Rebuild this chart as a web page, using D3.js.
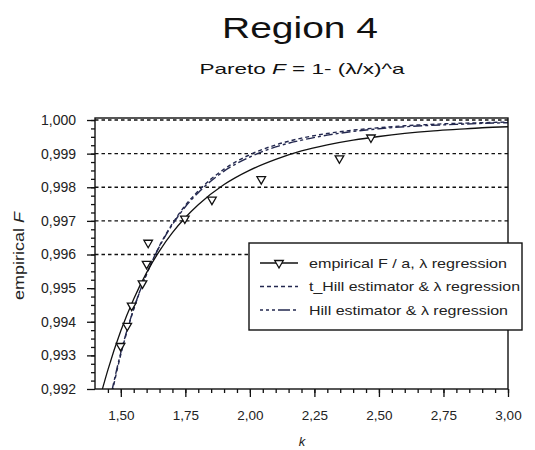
<!DOCTYPE html>
<html><head><meta charset="utf-8">
<script src="https://cdn.jsdelivr.net/npm/d3@7"></script>
<style>body{margin:0;background:#fff}svg{display:block}</style>
</head><body>
<svg id="c" width="535" height="450"></svg>
<script>
// ---- data ----
const xTicks = [1.5, 1.75, 2.0, 2.25, 2.5, 2.75, 3.0];
const yTicks = [0.992, 0.993, 0.994, 0.995, 0.996, 0.997, 0.998, 0.999, 1.000];
const gridValues = [0.996, 0.997, 0.998, 0.999, 1.000];

const empK = [1.499, 1.525, 1.542, 1.584, 1.600, 1.606, 1.748, 1.853, 2.044, 2.347, 2.469];
const empF = [0.99328, 0.99388, 0.99448, 0.99514, 0.99572, 0.99635, 0.99707, 0.99763, 0.99824, 0.99886, 0.99948];

const solidK = [1.42, 1.45, 1.5, 1.55, 1.6, 1.65, 1.7, 1.75, 1.8, 1.9, 2.0, 2.1, 2.2, 2.3, 2.4, 2.5, 2.6, 2.7, 2.8, 2.9, 3.0];
const solidF = [0.99176, 0.99257, 0.99373, 0.99468, 0.99546, 0.99611, 0.99665, 0.9971, 0.99748, 0.99808, 0.99851, 0.99883, 0.99908, 0.99926, 0.9994, 0.99951, 0.9996, 0.99967, 0.99972, 0.99977, 0.9998];

const hillK = [1.45, 1.5, 1.55, 1.6, 1.65, 1.7, 1.75, 1.8, 1.9, 2.0, 2.1, 2.2, 2.3, 2.4, 2.5, 2.6, 2.7, 2.8, 2.9, 3.0];
const tHillF = [0.9913, 0.99303, 0.99437, 0.99542, 0.99626, 0.99692, 0.99746, 0.99789, 0.99854, 0.99897, 0.99926, 0.99946, 0.9996, 0.9997, 0.99977, 0.99983, 0.99987, 0.9999, 0.99992, 0.99994];
const hillF  = [0.9914, 0.99308, 0.99439, 0.99542, 0.99624, 0.99689, 0.99742, 0.99784, 0.99848, 0.9989, 0.9992, 0.9994, 0.99955, 0.99966, 0.99974, 0.9998, 0.99984, 0.99987, 0.9999, 0.99992];

const legendLabels = ["empirical F / a, \u03BB regression", "t_Hill estimator & \u03BB regression", "Hill estimator & \u03BB regression"];

// ---- layout ----
const FONT = "'Liberation Sans', Arial, sans-serif";
const svg = d3.select("#c").style("font-family", FONT);
const x = d3.scaleLinear().domain([1.4, 3.0]).range([95, 508]);
const y = d3.scaleLinear().domain([0.992, 1.00006]).range([389, 118]);
const loc = d3.formatLocale({decimal: ",", thousands: ".", grouping: [3], currency: ["", ""]});
const fx = loc.format(".2f"), fy = loc.format(".3f");

// titles
svg.append("text").attr("x", 300).attr("y", 38).attr("text-anchor", "middle")
  .attr("font-size", 30).attr("textLength", 156).attr("lengthAdjust", "spacingAndGlyphs")
  .attr("fill", "#111").text("Region 4");
const sub = svg.append("text").attr("x", 302).attr("y", 74).attr("text-anchor", "middle")
  .attr("font-size", 15).attr("textLength", 205).attr("lengthAdjust", "spacingAndGlyphs").attr("fill", "#111");
sub.append("tspan").text("Pareto ");
sub.append("tspan").attr("font-style", "italic").text("F");
sub.append("tspan").text(" = 1- (\u03BB/x)^a");

// grid lines
const plotW = x.range()[1] - x.range()[0];
svg.append("g").selectAll("line").data(gridValues).join("line")
  .attr("x1", x(1.4)).attr("x2", x(3.0)).attr("y1", d => y(d)).attr("y2", d => y(d))
  .attr("stroke", "#111").attr("stroke-width", 1.4).attr("stroke-dasharray", "3.5,3");

// clip
svg.append("clipPath").attr("id", "clip").append("rect")
  .attr("x", x(1.4)).attr("y", y(1.00006)).attr("width", plotW).attr("height", y(0.992) - y(1.00006));

const plot = svg.append("g").attr("clip-path", "url(#clip)");
const line = d3.line().x(d => x(d[0])).y(d => y(d[1])).curve(d3.curveMonotoneX);

const solidData = solidK.map((k, i) => [k, solidF[i]]);
const tHillData = hillK.map((k, i) => [k, tHillF[i]]);
const hillData = hillK.map((k, i) => [k, hillF[i]]);

plot.append("path").attr("d", line(tHillData)).attr("fill", "none")
  .attr("stroke", "#23284f").attr("stroke-width", 1.4).attr("stroke-dasharray", "4,3");
plot.append("path").attr("d", line(hillData)).attr("fill", "none")
  .attr("stroke", "#23284f").attr("stroke-width", 1.4).attr("stroke-dasharray", "9,3,3,3");
plot.append("path").attr("d", line(solidData)).attr("fill", "none")
  .attr("stroke", "#111").attr("stroke-width", 1.3);

const tri = d3.symbol().type(d3.symbolTriangle).size(32);
plot.append("g").selectAll("path").data(empK.map((k, i) => [k, empF[i]])).join("path")
  .attr("d", tri).attr("transform", d => `translate(${x(d[0])},${y(d[1])}) rotate(180)`)
  .attr("fill", "#fff").attr("stroke", "#111").attr("stroke-width", 1.3);

// frame
svg.append("rect").attr("x", x(1.4)).attr("y", y(1.00006)).attr("width", plotW)
  .attr("height", y(0.992) - y(1.00006)).attr("fill", "none").attr("stroke", "#111").attr("stroke-width", 1.4);

// axes
const xAxis = svg.append("g").attr("transform", `translate(0,${y(0.992)})`)
  .call(d3.axisBottom(x).tickValues(xTicks).tickFormat(fx).tickSize(8).tickPadding(13));
const xMinor = svg.append("g").attr("transform", `translate(0,${y(0.992)})`)
  .call(d3.axisBottom(x).tickValues(d3.range(1.45, 3.0001, 0.05)).tickFormat("").tickSize(4));
const yAxis = svg.append("g").attr("transform", `translate(${x(1.4)},0)`)
  .call(d3.axisLeft(y).tickValues(yTicks).tickFormat(fy).tickSize(8).tickPadding(11));
const yMinor = svg.append("g").attr("transform", `translate(${x(1.4)},0)`)
  .call(d3.axisLeft(y).tickValues(d3.range(0.99225, 1.0, 0.00025)).tickFormat("").tickSize(4));
[xAxis, xMinor, yAxis, yMinor].forEach(g => {
  g.select(".domain").remove();
  g.selectAll("line").attr("stroke", "#111").attr("stroke-width", 1.3);
  g.selectAll("text").attr("fill", "#222").attr("font-family", FONT);
});
xAxis.selectAll("text").attr("font-size", 13.5);
yAxis.selectAll("text").attr("font-size", 14);

// axis titles
svg.append("text").attr("x", 302).attr("y", 446).attr("text-anchor", "middle")
  .attr("font-size", 13).attr("font-style", "italic").attr("fill", "#222").text("k");
const yl = svg.append("text").attr("transform", "translate(24,256) rotate(-90)").attr("text-anchor", "middle")
  .attr("font-size", 14).attr("textLength", 88).attr("lengthAdjust", "spacingAndGlyphs").attr("fill", "#222");
yl.append("tspan").text("empirical ");
yl.append("tspan").attr("font-style", "italic").text("F");

// legend
const lg = svg.append("g");
lg.append("rect").attr("x", 249).attr("y", 243).attr("width", 273).attr("height", 87)
  .attr("fill", "#fff").attr("stroke", "#111").attr("stroke-width", 1.4);
const rows = [
  {dash: null, color: "#111", marker: true, len: 198},
  {dash: "4,3", color: "#23284f", marker: false, len: 211},
  {dash: "3,3,3,3,3,3,12,3", color: "#23284f", marker: false, len: 199}
];
rows.forEach((r, i) => {
  const yy = 263 + i * 23.5;
  lg.append("line").attr("x1", 260).attr("x2", 298).attr("y1", yy).attr("y2", yy)
    .attr("stroke", r.color).attr("stroke-width", 1.4).attr("stroke-dasharray", r.dash);
  if (r.marker) lg.append("path").attr("d", tri).attr("transform", `translate(279,${yy}) rotate(180)`)
    .attr("fill", "#fff").attr("stroke", "#111").attr("stroke-width", 1.3);
  lg.append("text").attr("x", 309).attr("y", yy).attr("dy", "0.36em").attr("font-size", 13.5)
    .attr("textLength", r.len).attr("lengthAdjust", "spacingAndGlyphs").attr("fill", "#222").text(legendLabels[i]);
});
</script>
</body></html>
